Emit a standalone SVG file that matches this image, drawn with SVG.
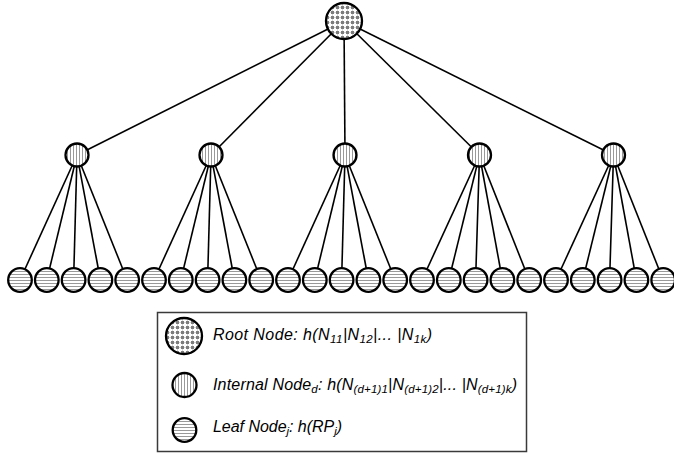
<svg xmlns="http://www.w3.org/2000/svg" width="674" height="456" viewBox="0 0 674 456">
<defs>
<pattern id="pDots" width="5" height="5" patternUnits="userSpaceOnUse">
<rect width="5" height="5" fill="#fff"/>
<rect x="2" y="0" width="1" height="5" fill="#d4d4d4"/>
<rect x="0" y="2" width="5" height="1" fill="#d4d4d4"/>
<rect x="1" y="1" width="3" height="3" fill="#7d7d7d"/>
</pattern>
<pattern id="pVert" width="3" height="3" patternUnits="userSpaceOnUse">
<rect width="3" height="3" fill="#fff"/>
<rect x="1" y="0" width="1" height="3" fill="#999"/>
</pattern>
<pattern id="pHorz" width="3" height="3" patternUnits="userSpaceOnUse">
<rect width="3" height="3" fill="#fff"/>
<rect x="0" y="1" width="3" height="1" fill="#999"/>
</pattern>
</defs>
<style>
.edge{stroke:#000;stroke-width:1.6;fill:none}
.root{fill:url(#pDots);stroke:#000;stroke-width:2.3}
.internal{fill:url(#pVert);stroke:#000;stroke-width:2.3}
.leaf{fill:url(#pHorz);stroke:#000;stroke-width:2.3}
.legend-box{fill:#fff;stroke:#3a3a3a;stroke-width:1.5}
.lbl{font-family:"Liberation Sans",Arial,sans-serif;font-style:italic;font-size:16px;fill:#000}
.sub{font-size:11.5px}
</style>
<rect width="674" height="456" fill="#fff"/>
<g id="connectors">
<line class="edge" x1="344" y1="21" x2="77" y2="155"/>
<line class="edge" x1="344" y1="21" x2="211" y2="155"/>
<line class="edge" x1="344" y1="21" x2="345" y2="155"/>
<line class="edge" x1="344" y1="21" x2="479.5" y2="155"/>
<line class="edge" x1="344" y1="21" x2="613.5" y2="155"/>
<line class="edge" x1="77" y1="155" x2="20" y2="280"/>
<line class="edge" x1="77" y1="155" x2="46.8" y2="280"/>
<line class="edge" x1="77" y1="155" x2="73.6" y2="280"/>
<line class="edge" x1="77" y1="155" x2="100.4" y2="280"/>
<line class="edge" x1="77" y1="155" x2="127.2" y2="280"/>
<line class="edge" x1="211" y1="155" x2="154" y2="280"/>
<line class="edge" x1="211" y1="155" x2="180.8" y2="280"/>
<line class="edge" x1="211" y1="155" x2="207.6" y2="280"/>
<line class="edge" x1="211" y1="155" x2="234.4" y2="280"/>
<line class="edge" x1="211" y1="155" x2="261.2" y2="280"/>
<line class="edge" x1="345" y1="155" x2="288" y2="280"/>
<line class="edge" x1="345" y1="155" x2="314.8" y2="280"/>
<line class="edge" x1="345" y1="155" x2="341.6" y2="280"/>
<line class="edge" x1="345" y1="155" x2="368.4" y2="280"/>
<line class="edge" x1="345" y1="155" x2="395.2" y2="280"/>
<line class="edge" x1="479.5" y1="155" x2="422" y2="280"/>
<line class="edge" x1="479.5" y1="155" x2="448.8" y2="280"/>
<line class="edge" x1="479.5" y1="155" x2="475.6" y2="280"/>
<line class="edge" x1="479.5" y1="155" x2="502.4" y2="280"/>
<line class="edge" x1="479.5" y1="155" x2="529.2" y2="280"/>
<line class="edge" x1="613.5" y1="155" x2="556" y2="280"/>
<line class="edge" x1="613.5" y1="155" x2="582.8" y2="280"/>
<line class="edge" x1="613.5" y1="155" x2="609.6" y2="280"/>
<line class="edge" x1="613.5" y1="155" x2="636.4" y2="280"/>
<line class="edge" x1="613.5" y1="155" x2="663.2" y2="280"/>
</g>
<g id="root"><circle class="root" cx="344" cy="21" r="18"/></g>
<g id="internal-1"><circle class="internal" cx="77" cy="155" r="11.5"/></g>
<g id="internal-2"><circle class="internal" cx="211" cy="155" r="11.5"/></g>
<g id="internal-3"><circle class="internal" cx="345" cy="155" r="11.5"/></g>
<g id="internal-4"><circle class="internal" cx="479.5" cy="155" r="11.5"/></g>
<g id="internal-5"><circle class="internal" cx="613.5" cy="155" r="11.5"/></g>
<g id="leaf-1"><circle class="leaf" cx="20" cy="280" r="11.8"/></g>
<g id="leaf-2"><circle class="leaf" cx="46.8" cy="280" r="11.8"/></g>
<g id="leaf-3"><circle class="leaf" cx="73.6" cy="280" r="11.8"/></g>
<g id="leaf-4"><circle class="leaf" cx="100.4" cy="280" r="11.8"/></g>
<g id="leaf-5"><circle class="leaf" cx="127.2" cy="280" r="11.8"/></g>
<g id="leaf-6"><circle class="leaf" cx="154" cy="280" r="11.8"/></g>
<g id="leaf-7"><circle class="leaf" cx="180.8" cy="280" r="11.8"/></g>
<g id="leaf-8"><circle class="leaf" cx="207.6" cy="280" r="11.8"/></g>
<g id="leaf-9"><circle class="leaf" cx="234.4" cy="280" r="11.8"/></g>
<g id="leaf-10"><circle class="leaf" cx="261.2" cy="280" r="11.8"/></g>
<g id="leaf-11"><circle class="leaf" cx="288" cy="280" r="11.8"/></g>
<g id="leaf-12"><circle class="leaf" cx="314.8" cy="280" r="11.8"/></g>
<g id="leaf-13"><circle class="leaf" cx="341.6" cy="280" r="11.8"/></g>
<g id="leaf-14"><circle class="leaf" cx="368.4" cy="280" r="11.8"/></g>
<g id="leaf-15"><circle class="leaf" cx="395.2" cy="280" r="11.8"/></g>
<g id="leaf-16"><circle class="leaf" cx="422" cy="280" r="11.8"/></g>
<g id="leaf-17"><circle class="leaf" cx="448.8" cy="280" r="11.8"/></g>
<g id="leaf-18"><circle class="leaf" cx="475.6" cy="280" r="11.8"/></g>
<g id="leaf-19"><circle class="leaf" cx="502.4" cy="280" r="11.8"/></g>
<g id="leaf-20"><circle class="leaf" cx="529.2" cy="280" r="11.8"/></g>
<g id="leaf-21"><circle class="leaf" cx="556" cy="280" r="11.8"/></g>
<g id="leaf-22"><circle class="leaf" cx="582.8" cy="280" r="11.8"/></g>
<g id="leaf-23"><circle class="leaf" cx="609.6" cy="280" r="11.8"/></g>
<g id="leaf-24"><circle class="leaf" cx="636.4" cy="280" r="11.8"/></g>
<g id="leaf-25"><circle class="leaf" cx="663.2" cy="280" r="11.8"/></g>
<g id="legend">
<rect class="legend-box" x="157.5" y="312.5" width="369" height="139"/>
<circle class="root" cx="184" cy="336" r="18"/>
<circle class="internal" cx="184.5" cy="385" r="12"/>
<circle class="leaf" cx="184.5" cy="430" r="11.8"/>
<text class="lbl" x="213" y="340" textLength="219" lengthAdjust="spacing">Root Node: h(N<tspan class="sub" dy="3">11</tspan><tspan dy="-3">|N</tspan><tspan class="sub" dy="3">12</tspan><tspan dy="-3">|... |N</tspan><tspan class="sub" dy="3">1k</tspan><tspan dy="-3">)</tspan></text>
<text class="lbl" x="213" y="390" textLength="304" lengthAdjust="spacing">Internal Node<tspan class="sub" dy="3">d</tspan><tspan dy="-3">: h(N</tspan><tspan class="sub" dy="3">(d+1)1</tspan><tspan dy="-3">|N</tspan><tspan class="sub" dy="3">(d+1)2</tspan><tspan dy="-3">|... |N</tspan><tspan class="sub" dy="3">(d+1)k</tspan><tspan dy="-3">)</tspan></text>
<text class="lbl" x="213" y="432" textLength="129" lengthAdjust="spacing">Leaf Node<tspan class="sub" dy="3">j</tspan><tspan dy="-3">: h(RP</tspan><tspan class="sub" dy="3">j</tspan><tspan dy="-3">)</tspan></text>
</g>
</svg>
